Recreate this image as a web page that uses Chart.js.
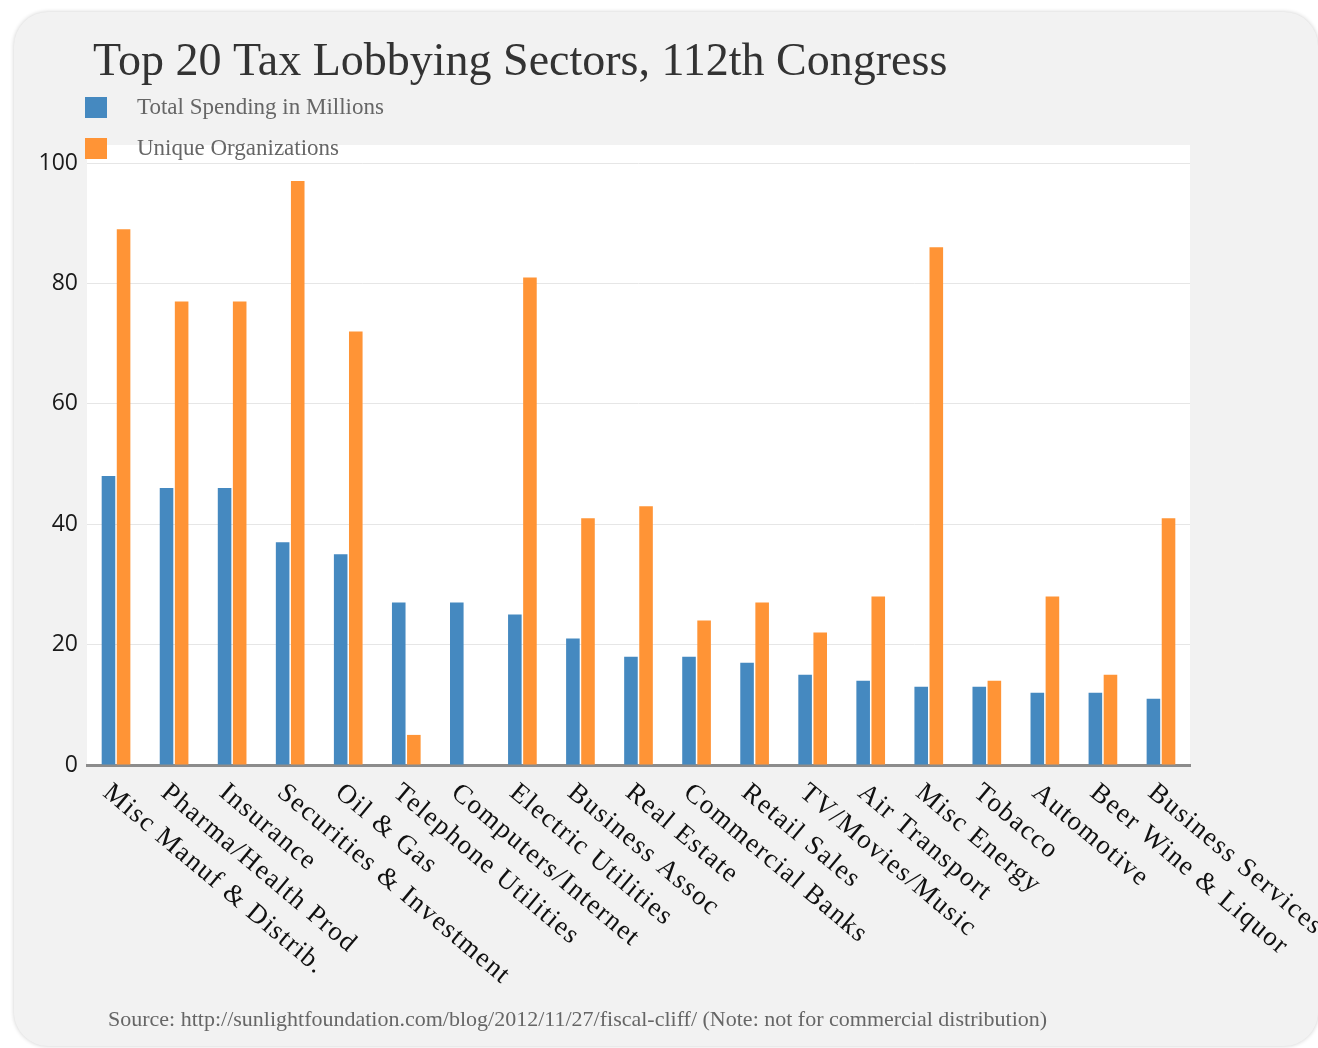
<!DOCTYPE html>
<html>
<head>
<meta charset="utf-8">
<title>Top 20 Tax Lobbying Sectors, 112th Congress</title>
<script src="https://cdn.jsdelivr.net/npm/chart.js@4.4.0/dist/chart.umd.min.js"></script>
<style>
  html, body { margin: 0; padding: 0; background: #fff; overflow: hidden; }
  #card {
    position: absolute; left: 14px; top: 12px; width: 1304px; height: 1034px;
    background: #f2f2f2; border-radius: 34px; box-shadow: 0 0 4px rgba(0,0,0,0.2);
  }
  #wrap { position: absolute; left: 0; top: 0; width: 1318px; height: 1048px; }
</style>
</head>
<body>
<div id="card"></div>
<div id="wrap"><canvas id="taxChart"></canvas></div>
<script>
// Sectors on the x axis
var sectors = [
  'Misc Manuf & Distrib.', 'Pharma/Health Prod', 'Insurance', 'Securities & Investment',
  'Oil & Gas', 'Telephone Utilities', 'Computers/Internet', 'Electric Utilities',
  'Business Assoc', 'Real Estate', 'Commercial Banks', 'Retail Sales',
  'TV/Movies/Music', 'Air Transport', 'Misc Energy', 'Tobacco',
  'Automotive', 'Beer Wine & Liquor', 'Business Services'
];

// Series values
var spending = [48, 46, 46, 37, 35, 27, 27, 25, 21, 18, 18, 17, 15, 14, 13, 13, 12, 12, 11];
var organizations = [89, 77, 77, 97, 72, 5, 0, 81, 41, 43, 24, 27, 22, 28, 86, 14, 28, 15, 41];

var yTicks = [0, 20, 40, 60, 80, 100];

var chartTitle = 'Top 20 Tax Lobbying Sectors, 112th Congress';
var sourceNote = 'Source: http://sunlightfoundation.com/blog/2012/11/27/fiscal-cliff/ (Note: not for commercial distribution)';

var serif = '"Liberation Serif", "DejaVu Serif", serif';

// Draws the white plot background, title, legend, slanted labels and the note
var sketchPlugin = {
  id: 'sketch',
  beforeDraw: function(chart) {
    var ctx = chart.ctx, a = chart.chartArea;
    ctx.save();
    ctx.fillStyle = '#ffffff';
    ctx.fillRect(a.left, a.top, a.right - a.left, a.bottom - a.top);
    ctx.restore();
  },
  afterDraw: function(chart) {
    var ctx = chart.ctx;
    var xScale = chart.scales.x;
    ctx.save();

    // title
    ctx.fillStyle = '#333333';
    ctx.font = '46px ' + serif;
    ctx.textAlign = 'left';
    ctx.textBaseline = 'alphabetic';
    ctx.fillText(chartTitle, 93, 75);

    // legend
    chart.data.datasets.forEach(function(ds, i) {
      var y = 97 + i * 41;
      ctx.fillStyle = ds.backgroundColor;
      ctx.fillRect(85, y, 22, 21);
      ctx.fillStyle = '#666666';
      ctx.font = '23px ' + serif;
      ctx.textBaseline = 'middle';
      ctx.fillText(ds.label, 137, y + 11);
    });

    // category labels, slanted down to the right
    ctx.fillStyle = '#111111';
    ctx.font = '27px ' + serif;
    ctx.textBaseline = 'top';
    ctx.letterSpacing = '1.5px';
    sectors.forEach(function(name, i) {
      var px = xScale.getPixelForTick(i);
      ctx.save();
      ctx.translate(px - 1, 779);
      ctx.rotate(40 * Math.PI / 180);
      ctx.fillText(name, 0, 0);
      ctx.restore();
    });
    ctx.letterSpacing = '0px';

    // source note
    ctx.fillStyle = '#666666';
    ctx.font = '22px ' + serif;
    ctx.textBaseline = 'middle';
    ctx.fillText(sourceNote, 108, 1020);

    ctx.restore();
  }
};

var ctx = document.getElementById('taxChart').getContext('2d');
new Chart(ctx, {
  type: 'bar',
  data: {
    labels: sectors,
    datasets: [{
      label: 'Total Spending in Millions',
      data: spending,
      backgroundColor: '#4589c0',
      categoryPercentage: 0.52,
      barPercentage: 0.9
    }, {
      label: 'Unique Organizations',
      data: organizations,
      backgroundColor: '#ff9436',
      categoryPercentage: 0.52,
      barPercentage: 0.9
    }]
  },
  options: {
    responsive: true,
    maintainAspectRatio: false,
    animation: false,
    layout: {
      padding: { left: 30, right: 128, top: 145, bottom: 283 }
    },
    plugins: {
      legend: { display: false },
      title: { display: false },
      tooltip: { enabled: false }
    },
    scales: {
      x: {
        grid: { display: false, drawTicks: false },
        border: { display: true, color: '#8c8c8c', width: 3 },
        ticks: { display: false },
        afterFit: function(scale) { scale.height = 0; }
      },
      y: {
        min: 0,
        max: 103,
        afterBuildTicks: function(scale) {
          scale.ticks = yTicks.map(function(v) { return { value: v }; });
        },
        afterFit: function(scale) { scale.width = 57; },
        grid: { color: '#e6e6e6', lineWidth: 1, drawTicks: false },
        border: { display: false },
        ticks: {
          padding: 9,
          color: '#1a1a1a',
          font: { family: '"Open Sans", sans-serif', size: 23 }
        }
      }
    }
  },
  plugins: [sketchPlugin]
});
</script>
</body>
</html>
